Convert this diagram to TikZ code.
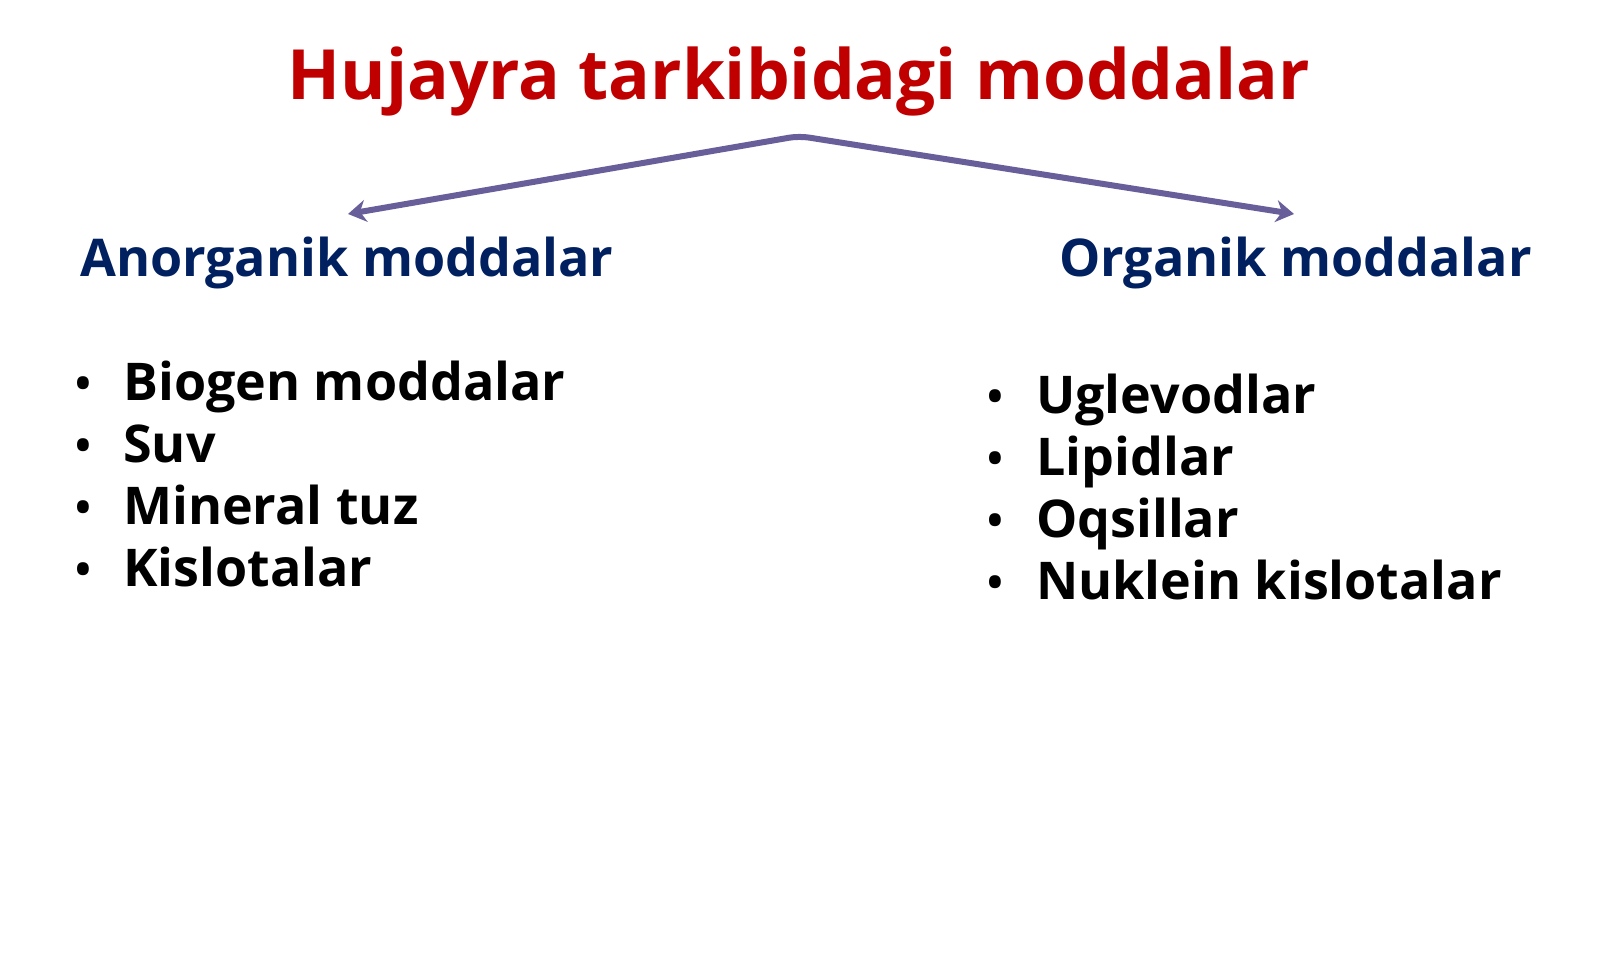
\documentclass[tikz,border=0pt]{standalone}
\usepackage{fontspec}
\setmainfont{Open Sans}
\usetikzlibrary{arrows.meta}
\definecolor{titlered}{RGB}{192,0,0}
\definecolor{headblue}{RGB}{0,32,96}
\definecolor{arrowpurple}{RGB}{104,94,154}
\tikzset{
  titletext/.style={font=\bfseries\fontsize{69.3}{80}\selectfont, text=titlered, inner sep=0pt, anchor=base},
  headtext/.style={font=\bfseries\fontsize{52}{60}\selectfont, text=headblue, inner sep=0pt, anchor=base west},
  itemtext/.style={font=\bfseries\fontsize{52}{60}\selectfont, text=black, inner sep=0pt, anchor=base west},
  bullettext/.style={font=\bfseries\fontsize{42}{50}\selectfont, text=black, inner sep=0pt, anchor=base},
  branch/.style={draw=arrowpurple, line width=6pt, rounded corners=10pt, {Stealth[length=18pt,width=22pt]}-{Stealth[length=18pt,width=22pt]}}
}
\begin{document}
\begin{tikzpicture}[x=1pt,y=-1pt]
\useasboundingbox (0,0) rectangle (1600,969);
\fill[white] (0,0) rectangle (1600,969);
\node[titletext] (title) at (799,99) {Hujayra tarkibidagi moddalar};
\node[headtext] (anorg) at (80,276) {Anorganik moddalar};
\node[headtext] (org) at (1059,276) {Organik moddalar};
\coordinate (apex) at (799,136);
\coordinate (ltip) at (348,214);
\coordinate (rtip) at (1294,214);
\draw[branch] (ltip) -- (apex) -- (rtip);
% left list
\node[bullettext] (lb1) at (83,398) {•};
\node[itemtext] (l1) at (123,400) {Biogen moddalar};
\node[bullettext] (lb2) at (83,460) {•};
\node[itemtext] (l2) at (123,462) {Suv};
\node[bullettext] (lb3) at (83,522) {•};
\node[itemtext] (l3) at (123,524) {Mineral tuz};
\node[bullettext] (lb4) at (83,584) {•};
\node[itemtext] (l4) at (123,586) {Kislotalar};
% right list
\node[bullettext] (rb1) at (995,411) {•};
\node[itemtext] (r1) at (1036,413) {Uglevodlar};
\node[bullettext] (rb2) at (995,473) {•};
\node[itemtext] (r2) at (1036,475) {Lipidlar};
\node[bullettext] (rb3) at (995,535) {•};
\node[itemtext] (r3) at (1036,537) {Oqsillar};
\node[bullettext] (rb4) at (995,597) {•};
\node[itemtext] (r4) at (1036,599) {Nuklein kislotalar};
\end{tikzpicture}
\end{document}
